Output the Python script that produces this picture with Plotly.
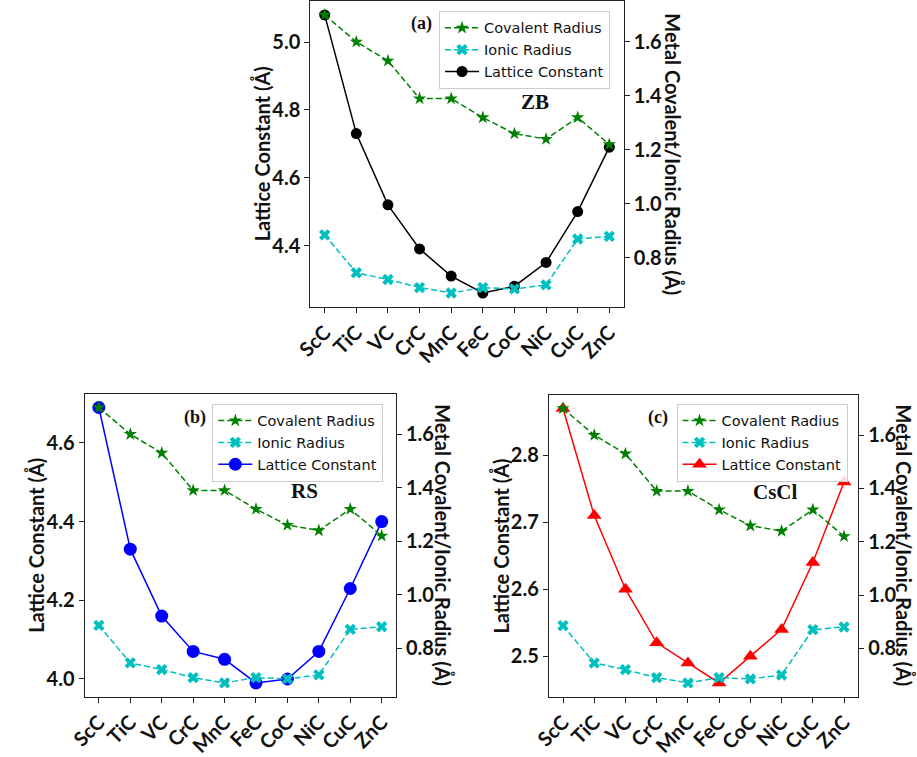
import plotly.graph_objects as go

# Transition-metal carbides along the 3d row
compounds = ["ScC", "TiC", "VC", "CrC", "MnC", "FeC", "CoC", "NiC", "CuC", "ZnC"]

# Metal radii (Å)
covalent_radius = [1.70, 1.60, 1.53, 1.39, 1.39, 1.32, 1.26, 1.24, 1.32, 1.22]
ionic_radius = [0.885, 0.745, 0.72, 0.69, 0.67, 0.69, 0.685, 0.70, 0.87, 0.88]

# Lattice constants (Å) for each structure type
lattice_zb = [5.08, 4.73, 4.52, 4.39, 4.31, 4.26, 4.28, 4.35, 4.50, 4.69]
lattice_rs = [4.69, 4.33, 4.16, 4.07, 4.05, 3.99, 4.00, 4.07, 4.23, 4.40]
lattice_cscl = [2.87, 2.71, 2.60, 2.52, 2.49, 2.46, 2.50, 2.54, 2.64, 2.76]

W, H = 917, 757
TICK_FONT = dict(family="Lato", size=20, color="#111", weight="bold")
TITLE_FONT = dict(family="Lato", size=20, color="#111", weight="bold")
LEGEND_FONT = dict(family="DejaVu Sans", size=14.5, color="#111")
LABEL_FONT = dict(family="Liberation Serif", color="#111", weight="bold")
AXIS_COLOR = "#222"


def fx(px):
    return px / W


def fy(py):
    return 1 - py / H


def padded(values, frac=0.05):
    lo, hi = min(values), max(values)
    pad = (hi - lo) * frac
    return [lo - pad, hi + pad]


radius_range = padded(covalent_radius + ionic_radius)

panels = [
    dict(lattice=lattice_zb, color="black", symbol="circle", msize=11,
         box=(299, 0, 618, 310), legend=(430, 10), tag="(a)", tag_xy=(412, 23),
         phase="ZB", phase_xy=(528, 102), ltitle_x=250, rtitle_x=668,
         ldtick=0.2),
    dict(lattice=lattice_rs, color="#0000ff", symbol="circle", msize=13,
         box=(69, 398, 386, 705), legend=(199, 408), tag="(b)", tag_xy=(181, 422),
         phase="RS", phase_xy=(293, 497), ltitle_x=20, rtitle_x=434,
         ldtick=0.2),
    dict(lattice=lattice_cscl, color="#ff0000", symbol="triangle-up", msize=13,
         box=(542, 399, 857, 705), legend=(672, 408), tag="(c)", tag_xy=(653, 422),
         phase="CsCl", phase_xy=(773, 498), ltitle_x=493, rtitle_x=904,
         ldtick=0.1),
]

fig = go.Figure()
layout = dict(
    width=W, height=H, margin=dict(l=0, r=0, t=0, b=0),
    paper_bgcolor="white", plot_bgcolor="white", showlegend=True,
)
annotations = []

for i, p in enumerate(panels):
    n = i + 1
    xname = "x" if n == 1 else f"x{n}"
    yl = 2 * n - 1
    yr = 2 * n
    ylname = "y" if yl == 1 else f"y{yl}"
    yrname = f"y{yr}"
    legname = "legend" if n == 1 else f"legend{n}"
    x0, y0, x1, y1 = p["box"]
    xdom = [fx(x0), fx(x1)]
    ydom = [fy(y1), fy(y0)]

    fig.add_trace(go.Scatter(
        x=compounds, y=p["lattice"], name="Lattice Constant",
        xaxis=xname, yaxis=ylname, legend=legname, legendrank=3,
        mode="lines+markers",
        line=dict(color=p["color"], width=1.5),
        marker=dict(symbol=p["symbol"], size=p["msize"], color=p["color"]),
    ))
    fig.add_trace(go.Scatter(
        x=compounds, y=covalent_radius, name="Covalent Radius",
        xaxis=xname, yaxis=yrname, legend=legname, legendrank=1,
        mode="lines+markers",
        line=dict(color="#008000", width=1.5, dash="6px,3px"),
        marker=dict(symbol="star", size=10, color="#008000"),
    ))
    fig.add_trace(go.Scatter(
        x=compounds, y=ionic_radius, name="Ionic Radius",
        xaxis=xname, yaxis=yrname, legend=legname, legendrank=2,
        mode="lines+markers",
        line=dict(color="#00bfbf", width=1.5, dash="6px,3px"),
        marker=dict(symbol="x", size=10, color="#00bfbf"),
    ))

    layout["xaxis" if n == 1 else f"xaxis{n}"] = dict(
        domain=xdom, anchor=ylname, type="category",
        range=[-0.45, len(compounds) - 0.55],
        showline=True, linecolor=AXIS_COLOR, linewidth=1.3, mirror=True,
        ticks="outside", ticklen=5, tickcolor=AXIS_COLOR,
        tickangle=-45, tickfont=TICK_FONT, showgrid=False, zeroline=False,
    )
    layout["yaxis" if yl == 1 else f"yaxis{yl}"] = dict(
        domain=ydom, anchor=xname, range=padded(p["lattice"]),
        dtick=p["ldtick"], tickformat=".1f",
        showline=True, linecolor=AXIS_COLOR, linewidth=1.3,
        ticks="outside", ticklen=5, tickcolor=AXIS_COLOR,
        tickfont=TICK_FONT, showgrid=False, zeroline=False,
    )
    layout[f"yaxis{yr}"] = dict(
        overlaying=ylname, anchor=xname, side="right", range=radius_range,
        dtick=0.2, tick0=0, tickformat=".1f",
        showline=True, linecolor=AXIS_COLOR, linewidth=1.3,
        ticks="outside", ticklen=5, tickcolor=AXIS_COLOR,
        tickfont=TICK_FONT, showgrid=False, zeroline=False,
    )
    lx, ly = p["legend"]
    layout[legname] = dict(
        x=fx(lx), y=fy(ly), xanchor="left", yanchor="top",
        bgcolor="rgba(255,255,255,0.85)", bordercolor="#cccccc", borderwidth=1,
        font=LEGEND_FONT, itemwidth=34, tracegroupgap=0,
    )

    ymid = fy((y0 + y1) / 2)
    annotations += [
        dict(text="Lattice Constant (Å)", x=fx(p["ltitle_x"]), y=ymid,
             xref="paper", yref="paper", showarrow=False, textangle=-90,
             font=TITLE_FONT, xanchor="center", yanchor="middle"),
        dict(text="Metal Covalent/Ionic Radius (Å)", x=fx(p["rtitle_x"]), y=ymid,
             xref="paper", yref="paper", showarrow=False, textangle=90,
             font=TITLE_FONT, xanchor="center", yanchor="middle"),
        dict(text=p["tag"], x=fx(p["tag_xy"][0]), y=fy(p["tag_xy"][1]),
             xref="paper", yref="paper", showarrow=False,
             font=dict(LABEL_FONT, size=18), xanchor="center", yanchor="middle"),
        dict(text=p["phase"], x=fx(p["phase_xy"][0]), y=fy(p["phase_xy"][1]),
             xref="paper", yref="paper", showarrow=False,
             font=dict(LABEL_FONT, size=21), xanchor="center", yanchor="middle"),
    ]

layout["annotations"] = annotations
fig.update_layout(**layout)
fig.write_html("out.html")
